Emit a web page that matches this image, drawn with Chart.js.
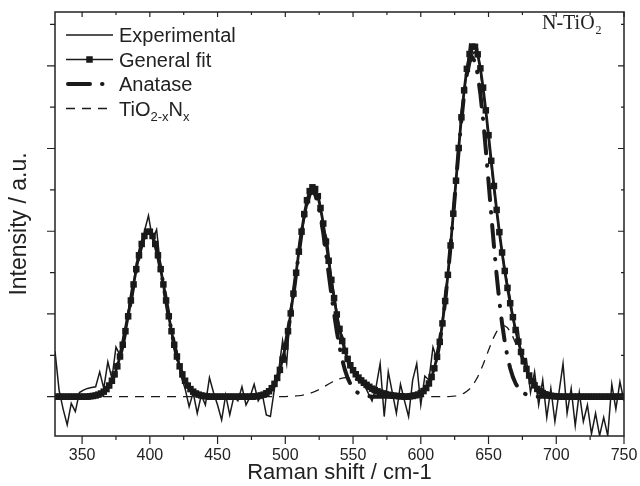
<!DOCTYPE html>
<html>
<head>
<meta charset="utf-8">
<script src="https://cdn.jsdelivr.net/npm/chart.js@4.4.1/dist/chart.umd.min.js"></script>
<style>
  html, body { margin: 0; padding: 0; background: #fff; }
</style>
</head>
<body>
<canvas id="chartRaman" width="640" height="486"></canvas>
<script>
// sampling of the wavenumber axis (cm-1)
var fitStart = 330, fitStep = 2;
var expStart = 330, expStep = 3;

var xMajorTicks = [350, 400, 450, 500, 550, 600, 650, 700, 750];
var xMinorTicks = [375, 425, 475, 525, 575, 625, 675, 725];
var yMajorTicks = [0, 1, 2, 3, 4];
var yMinorTicks = [0.5, 1.5, 2.5, 3.5, 4.5];

// measured spectrum, 330..750 every 3 cm-1
var experimental = [
    0.55, 0.08, -0.15, -0.34, -0.08, -0.18, 0.05, 0.08, 0.10, 0.11,
    0.12, 0.30, 0.10, 0.42, 0.22, 0.60, 0.50, 0.78, 1.05, 1.22,
    1.62, 1.72, 2.00, 2.19, 1.90, 2.02, 1.55, 1.30, 0.98, 0.70,
    0.55, 0.25, 0.10, -0.12, 0.05, -0.20, 0.02, -0.10, 0.23, 0.05,
    -0.10, -0.28, 0.02, -0.22, 0.00, -0.05, 0.12, -0.10, 0.00, 0.15,
    -0.05, 0.03, -0.22, -0.24, 0.10, 0.30, 0.68, 0.40, 1.10, 1.30,
    1.75, 2.05, 2.30, 2.50, 2.45, 2.40, 2.05, 1.90, 1.45, 1.15,
    0.82, 0.70, 0.40, 0.32, 0.28, 0.24, 0.15, 0.05, -0.05, 0.12,
    0.40, -0.24, 0.30, 0.05, -0.20, 0.15, -0.05, -0.24, 0.20, 0.40,
    -0.10, 0.25, 0.20, 0.60, 0.45, 0.80, 1.25, 1.60, 2.20, 2.80,
    3.45, 3.80, 4.25, 4.15, 4.20, 3.80, 3.45, 2.95, 2.50, 2.10,
    1.75, 1.45, 1.20, 0.85, 0.80, 0.40, 0.45, 0.05, 0.30, -0.10,
    0.20, -0.25, 0.10, -0.30, 0.05, 0.40, -0.20, 0.10, -0.35, 0.05,
    -0.30, -0.10, -0.45, -0.20, -0.47, -0.25, -0.47, 0.15, -0.15, 0.18,
    -0.05
];

// fitted curves, 330..750 every 2 cm-1
var generalFit = [
    0, 0, 0, 0, 0, 0, 0, 0, 0, 0,
    0, 0, 0, 0.005, 0.009, 0.015, 0.025, 0.039, 0.061, 0.092,
    0.135, 0.193, 0.270, 0.367, 0.486, 0.628, 0.792, 0.972, 1.163, 1.357,
    1.542, 1.709, 1.846, 1.943, 1.994, 1.994, 1.943, 1.846, 1.709, 1.542,
    1.357, 1.163, 0.972, 0.792, 0.628, 0.486, 0.367, 0.270, 0.193, 0.135,
    0.092, 0.061, 0.039, 0.025, 0.015, 0.009, 0.005, 0, 0, 0,
    0, 0, 0, 0, 0, 0, 0, 0, 0, 0,
    0, 0, 0, 0, 0.005, 0.009, 0.015, 0.025, 0.042, 0.066,
    0.103, 0.155, 0.227, 0.324, 0.448, 0.605, 0.792, 1.007, 1.246, 1.499,
    1.753, 1.995, 2.207, 2.375, 2.485, 2.531, 2.510, 2.424, 2.281, 2.093,
    1.875, 1.643, 1.412, 1.192, 0.994, 0.820, 0.673, 0.554, 0.457, 0.380,
    0.320, 0.271, 0.231, 0.197, 0.168, 0.143, 0.120, 0.097, 0.080, 0.065,
    0.051, 0.040, 0.031, 0.023, 0.017, 0.012, 0.009, 0.006, 0.004, 0,
    0, 0.005, 0.009, 0.016, 0.026, 0.043, 0.068, 0.105, 0.160, 0.238,
    0.343, 0.482, 0.663, 0.886, 1.156, 1.473, 1.828, 2.212, 2.611, 3.006,
    3.377, 3.703, 3.963, 4.142, 4.232, 4.229, 4.138, 3.969, 3.736, 3.461,
    3.161, 2.851, 2.547, 2.258, 1.989, 1.743, 1.520, 1.315, 1.130, 0.961,
    0.806, 0.666, 0.541, 0.431, 0.336, 0.256, 0.190, 0.137, 0.094, 0.065,
    0.044, 0.029, 0.018, 0.011, 0.007, 0.004, 0.002, 0, 0, 0,
    0, 0, 0, 0, 0, 0, 0, 0, 0, 0,
    0, 0, 0, 0, 0, 0, 0, 0, 0, 0,
    0
];

var anatase = [
    0, 0, 0, 0, 0, 0, 0, 0, 0, 0,
    0, 0, 0, 0.005, 0.009, 0.015, 0.025, 0.039, 0.061, 0.092,
    0.135, 0.193, 0.270, 0.367, 0.486, 0.628, 0.792, 0.972, 1.163, 1.357,
    1.542, 1.709, 1.846, 1.943, 1.994, 1.994, 1.943, 1.846, 1.709, 1.542,
    1.357, 1.163, 0.972, 0.792, 0.628, 0.486, 0.367, 0.270, 0.193, 0.135,
    0.092, 0.061, 0.039, 0.025, 0.015, 0.009, 0.005, 0, 0, 0,
    0, 0, 0, 0, 0, 0, 0, 0, 0, 0,
    0, 0, 0, 0, 0.005, 0.009, 0.015, 0.025, 0.042, 0.066,
    0.103, 0.155, 0.227, 0.324, 0.448, 0.603, 0.789, 1.003, 1.240, 1.490,
    1.741, 1.978, 2.184, 2.344, 2.445, 2.480, 2.445, 2.344, 2.184, 1.978,
    1.741, 1.490, 1.240, 1.003, 0.789, 0.603, 0.448, 0.324, 0.227, 0.155,
    0.103, 0.066, 0.042, 0.025, 0.015, 0.009, 0.005, 0, 0, 0,
    0, 0, 0, 0, 0, 0, 0, 0, 0, 0,
    0, 0.005, 0.009, 0.016, 0.026, 0.043, 0.068, 0.105, 0.160, 0.238,
    0.343, 0.482, 0.663, 0.886, 1.156, 1.471, 1.824, 2.205, 2.600, 2.988,
    3.348, 3.659, 3.898, 4.048, 4.100, 4.048, 3.898, 3.659, 3.348, 2.988,
    2.600, 2.205, 1.824, 1.471, 1.156, 0.886, 0.663, 0.482, 0.343, 0.238,
    0.160, 0.105, 0.068, 0.043, 0.026, 0.016, 0.009, 0.005, 0, 0,
    0, 0, 0, 0, 0, 0, 0, 0, 0, 0,
    0, 0, 0, 0, 0, 0, 0, 0, 0, 0,
    0, 0, 0, 0, 0, 0, 0, 0, 0, 0,
    0
];

var tiO2xNx = [
    0, 0, 0, 0, 0, 0, 0, 0, 0, 0,
    0, 0, 0, 0, 0, 0, 0, 0, 0, 0,
    0, 0, 0, 0, 0, 0, 0, 0, 0, 0,
    0, 0, 0, 0, 0, 0, 0, 0, 0, 0,
    0, 0, 0, 0, 0, 0, 0, 0, 0, 0,
    0, 0, 0, 0, 0, 0, 0, 0, 0, 0,
    0, 0, 0, 0, 0, 0, 0, 0, 0, 0,
    0, 0, 0, 0, 0, 0, 0, 0, 0, 0,
    0, 0, 0, 0, 0, 0.002, 0.003, 0.004, 0.006, 0.009,
    0.012, 0.017, 0.023, 0.031, 0.040, 0.051, 0.065, 0.080, 0.097, 0.115,
    0.134, 0.153, 0.172, 0.189, 0.205, 0.217, 0.225, 0.230, 0.230, 0.225,
    0.217, 0.205, 0.189, 0.172, 0.153, 0.134, 0.115, 0.097, 0.080, 0.065,
    0.051, 0.040, 0.031, 0.023, 0.017, 0.012, 0.009, 0.006, 0.004, 0,
    0, 0, 0, 0, 0, 0, 0, 0, 0, 0,
    0, 0, 0, 0, 0, 0.002, 0.004, 0.007, 0.011, 0.018,
    0.029, 0.044, 0.065, 0.094, 0.132, 0.181, 0.240, 0.310, 0.388, 0.473,
    0.561, 0.646, 0.723, 0.787, 0.833, 0.857, 0.857, 0.833, 0.787, 0.723,
    0.646, 0.561, 0.473, 0.388, 0.310, 0.240, 0.181, 0.132, 0.094, 0.065,
    0.044, 0.029, 0.018, 0.011, 0.007, 0.004, 0.002, 0, 0, 0,
    0, 0, 0, 0, 0, 0, 0, 0, 0, 0,
    0, 0, 0, 0, 0, 0, 0, 0, 0, 0,
    0
];

var sansFont = "'Liberation Sans', Arial, Helvetica, sans-serif";
var serifFont = "'Liberation Serif', 'Times New Roman', serif";
var ink = '#1a1a1a';

function toPoints(values, start, step) {
    return values.map(function(v, i) {
        return { x: start + i * step, y: v };
    });
}

// frame box with major/minor ticks on all four sides
var frameTicks = {
    id: 'frameTicks',
    afterDatasetsDraw: function(chart) {
        var c = chart.ctx, a = chart.chartArea;
        var xs = chart.scales.x, ys = chart.scales.y;
        c.save();
        c.strokeStyle = '#222';
        c.setLineDash([]);
        c.lineWidth = 1.5;
        c.strokeRect(a.left, a.top, a.right - a.left, a.bottom - a.top);
        c.lineWidth = 1.2;
        c.beginPath();
        function xTick(v, outLen, inLen) {
            var p = xs.getPixelForValue(v);
            c.moveTo(p, a.bottom); c.lineTo(p, a.bottom + outLen);
            c.moveTo(p, a.top); c.lineTo(p, a.top + inLen);
        }
        function yTick(v, outLen, inLen) {
            var p = ys.getPixelForValue(v);
            c.moveTo(a.left, p); c.lineTo(a.left - outLen, p);
            c.moveTo(a.right, p); c.lineTo(a.right - inLen, p);
        }
        xMajorTicks.forEach(function(v) { xTick(v, 8, 5); });
        xMinorTicks.forEach(function(v) { xTick(v, 4, 3); });
        yMajorTicks.forEach(function(v) { yTick(v, 8, 6); });
        yMinorTicks.forEach(function(v) { yTick(v, 5, 3); });
        c.stroke();
        c.restore();
    }
};

// legend in the upper left corner of the plot, with subscripts
var insideLegend = {
    id: 'insideLegend',
    afterDraw: function(chart) {
        var c = chart.ctx;
        var x0 = 66, x1 = 113, textX = 119, rowTop = 35, rowGap = 24.5;
        chart.data.datasets.forEach(function(ds, i) {
            var y = rowTop + i * rowGap;
            c.save();
            c.strokeStyle = ds.borderColor;
            c.lineWidth = ds.legendLineWidth || ds.borderWidth;
            c.lineCap = ds.borderCapStyle || 'butt';
            c.setLineDash(ds.borderDash || []);
            c.beginPath();
            c.moveTo(ds.borderCapStyle === 'round' ? x0 + 2 : x0, y);
            c.lineTo(ds.borderCapStyle === 'round' ? x1 - 8 : x1, y);
            c.stroke();
            if (ds.pointRadius > 0) {
                var s = ds.pointRadius * Math.SQRT1_2;
                c.fillStyle = ds.pointBackgroundColor;
                c.fillRect((x0 + x1) / 2 - s, y - s, 2 * s, 2 * s);
            }
            c.fillStyle = '#222';
            c.textBaseline = 'alphabetic';
            var tx = textX;
            (ds.labelParts || [[ds.label, 0]]).forEach(function(part) {
                c.font = (part[1] ? '13px ' : '20px ') + sansFont;
                c.fillText(part[0], tx, y + 7 + (part[1] ? 5 : 0));
                tx += c.measureText(part[0]).width;
            });
            c.restore();
        });
        // sample name, top right
        c.save();
        c.fillStyle = '#222';
        c.textBaseline = 'alphabetic';
        c.font = '20px ' + serifFont;
        c.fillText('N-TiO', 542, 29);
        var w = c.measureText('N-TiO').width;
        c.font = '12px ' + serifFont;
        c.fillText('2', 542 + w + 1, 34);
        c.restore();
    }
};

var ctx = document.getElementById('chartRaman');
var ramanChart = new Chart(ctx, {
    type: 'line',
    data: {
        datasets: [{
            label: 'Experimental',
            data: toPoints(experimental, expStart, expStep),
            borderColor: ink,
            borderWidth: 1.5,
            pointRadius: 0,
            clip: 0,
            order: 1
        }, {
            label: 'General fit',
            data: toPoints(generalFit, fitStart, fitStep),
            borderColor: ink,
            borderWidth: 2.8,
            legendLineWidth: 1.3,
            pointStyle: 'rect',
            pointRadius: 4.6,
            pointBorderWidth: 0,
            pointBackgroundColor: ink,
            clip: 0,
            order: 2
        }, {
            label: 'Anatase',
            data: toPoints(anatase, fitStart, fitStep),
            borderColor: ink,
            borderWidth: 4,
            borderDash: [22, 12, 0.5, 12.5],
            borderCapStyle: 'round',
            pointRadius: 0,
            clip: 0,
            order: 4
        }, {
            label: 'TiO2-xNx',
            labelParts: [['TiO', 0], ['2-x', 1], ['N', 0], ['x', 1]],
            data: toPoints(tiO2xNx, fitStart, fitStep),
            borderColor: ink,
            borderWidth: 1.3,
            borderDash: [9, 7],
            pointRadius: 0,
            clip: 0,
            order: 3
        }]
    },
    options: {
        responsive: false,
        animation: false,
        devicePixelRatio: 1,
        layout: { padding: { top: 12, right: 16, left: 0, bottom: 0 } },
        plugins: {
            legend: { display: false },
            tooltip: { enabled: false }
        },
        scales: {
            x: {
                type: 'linear',
                min: 330,
                max: 750,
                afterBuildTicks: function(scale) {
                    scale.ticks = xMajorTicks.map(function(v) { return { value: v }; });
                },
                afterFit: function(scale) {
                    scale.height = 50;
                    scale.paddingLeft = 0;
                    scale.paddingRight = 0;
                },
                grid: { display: false, drawTicks: false },
                border: { display: false },
                ticks: {
                    color: '#222',
                    padding: 10,
                    maxRotation: 0,
                    autoSkip: false,
                    font: { family: sansFont, size: 16 }
                },
                title: {
                    display: true,
                    text: 'Raman shift / cm-1',
                    color: '#222',
                    padding: { top: 0, bottom: 0 },
                    font: { family: sansFont, size: 22 }
                }
            },
            y: {
                type: 'linear',
                min: -0.475,
                max: 4.65,
                afterFit: function(scale) {
                    scale.width = 55;
                },
                grid: { display: false, drawTicks: false },
                border: { display: false },
                ticks: { display: false },
                title: {
                    display: true,
                    text: 'Intensity / a.u.',
                    color: '#222',
                    padding: { top: 6, bottom: 0 },
                    font: { family: sansFont, size: 23 }
                }
            }
        }
    },
    plugins: [frameTicks, insideLegend]
});
</script>
</body>
</html>
